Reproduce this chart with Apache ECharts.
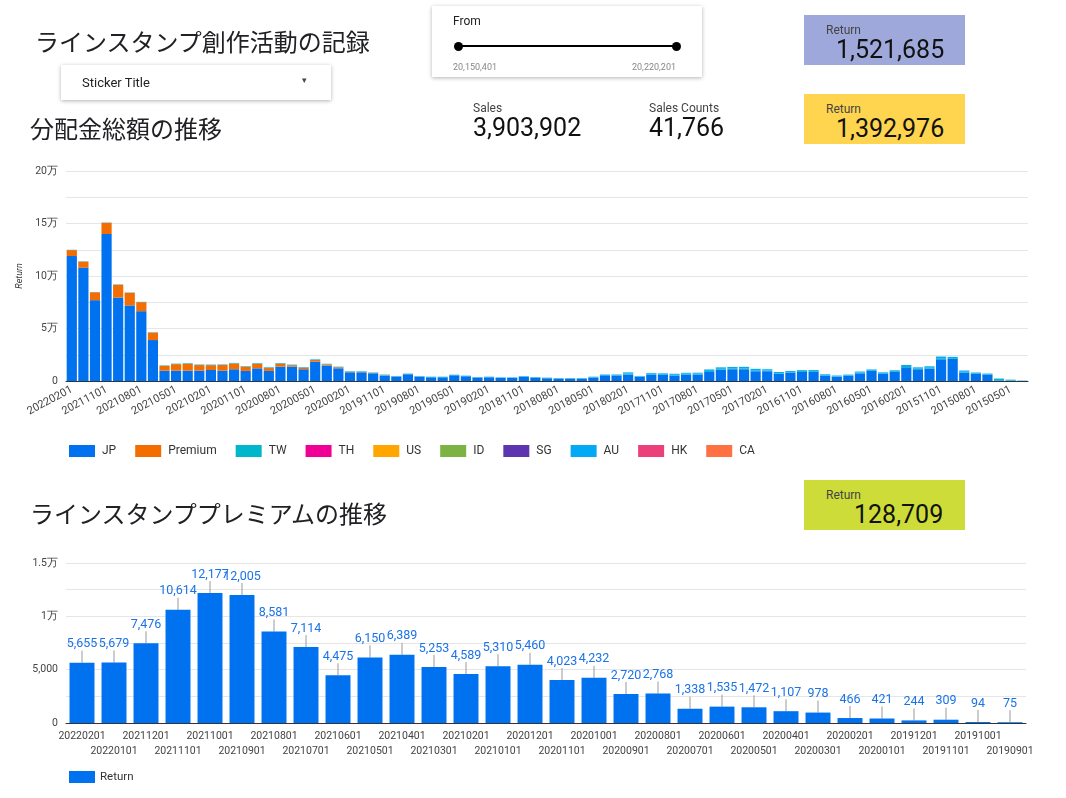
<!doctype html>
<meta charset="utf-8">
<title>ラインスタンプ創作活動の記録</title>
<style>
	body { margin: 0; width: 1066px; height: 798px; position: relative; font-family: Roboto, "Noto Sans CJK JP", sans-serif; background: #fff; overflow: hidden; }
	#main { position: absolute; left: 0; top: 0; width: 1066px; height: 798px; }
	.abs { position: absolute; }
	.title { font-size: 24px; color: #202124; font-family: "Noto Sans CJK JP", sans-serif; }
	.card { box-shadow: 0 1px 4px rgba(0,0,0,0.3); background: #fff; }
	.lbl { font-size: 12px; color: #444; }
	.big { font-size: 25px; color: #111; }
	.sc { padding-left: 22px; box-sizing: border-box; }
</style>
<div id="main"></div>
<div class="abs title" style="left:35px;top:23px">ラインスタンプ創作活動の記録</div>
<div class="abs title" style="left:30px;top:110px">分配金総額の推移</div>
<div class="abs title" style="left:30px;top:495px">ラインスタンププレミアムの推移</div>
<div class="abs card" style="left:61px;top:65px;width:270px;height:35px">
	<span class="abs" style="left:21px;top:10px;font-size:13px;color:#222">Sticker Title</span>
	<span class="abs" style="left:241px;top:10px;font-size:9px;color:#444">▾</span>
</div>
<div class="abs card" style="left:432px;top:6px;width:270px;height:71px">
	<span class="abs" style="left:21px;top:8px;font-size:12px;color:#222">From</span>
	<div class="abs" style="left:26px;top:39px;width:219px;height:2px;background:#000"></div>
	<div class="abs" style="left:22px;top:36px;width:9px;height:9px;border-radius:50%;background:#000"></div>
	<div class="abs" style="left:240px;top:36px;width:9px;height:9px;border-radius:50%;background:#000"></div>
	<span class="abs" style="left:21px;top:56px;font-size:9px;color:#888">20,150,401</span>
	<span class="abs" style="left:200px;top:56px;font-size:9px;color:#888">20,220,201</span>
</div>
<div class="abs sc" style="left:804px;top:15px;width:161px;height:50px;background:#9fa8da">
	<div class="lbl" style="margin-top:8px">Return</div><div class="big" style="margin-left:10px;margin-top:-2px">1,521,685</div>
</div>
<div class="abs sc" style="left:804px;top:94px;width:161px;height:50px;background:#ffd54f">
	<div class="lbl" style="margin-top:8px">Return</div><div class="big" style="margin-left:10px;margin-top:-2px">1,392,976</div>
</div>
<div class="abs sc" style="left:804px;top:480px;width:161px;height:50px;background:#cddc39">
	<div class="lbl" style="margin-top:8px">Return</div><div class="big" style="margin-left:28px;margin-top:-2px">128,709</div>
</div>
<div class="abs" style="left:473px;top:101px"><div class="lbl">Sales</div><div class="big" style="margin-top:-2px">3,903,902</div></div>
<div class="abs" style="left:649px;top:101px"><div class="lbl">Sales Counts</div><div class="big" style="margin-top:-2px">41,766</div></div>
<script src="https://cdn.jsdelivr.net/npm/echarts@6/dist/echarts.min.js"></script>
<script>
	// months, newest first: 20220201 ... 20150401
	var months = [];
	for (var y = 2022, m = 2; !(y == 2015 && m == 3); ) {
		months.push('' + y + (m < 10 ? '0' : '') + m + '01');
		m--; if (m == 0) { m = 12; y--; }
	}
	var jp = [119000,108000,77000,140000,79500,72000,66500,39000,9900,9900,9900,9900,10500,9900,11200,9600,12100,9600,13700,13700,
		11200,18500,14700,12100,8300,8300,7300,5100,4100,6400,4100,3500,3500,5400,4500,3200,3500,2900,2900,4100,
		3200,2600,2200,2200,2200,3200,5400,5100,6100,4100,6100,6100,5100,6100,6100,8600,10800,11200,11200,9300,
		9300,7000,8000,8600,8600,5100,4100,4800,7300,9600,7000,8600,13100,11200,11800,20700,21000,8000,7000,6100,
		600,300,200];
	var premMonths = months.slice(0, 30);
	var premium = [5655,5679,7476,10614,12177,12005,8581,7114,4475,6150,6389,5253,4589,5310,5460,4023,4232,2720,2768,1338,
		1535,1472,1107,978,466,421,244,309,94,75];
	var tw = [0,0,0,0,0,0,0,0,300,300,400,300,300,300,300,300,400,500,400,300,300,300,300,300,300,300,300,300,300,300,
		300,300,300,300,300,300,300,300,300,300,300,300,300,300,300,500,400,600,1200,300,900,600,800,800,900,1000,800,900,900,900,
		700,600,600,900,800,600,500,600,800,700,700,800,1200,900,1300,1000,800,800,700,600,1500,800,100];
	var th = [];
	var us = [];
	var idn = [];
	var sg = [];
	var au = [300,300,200,300,300,300,300,300,200,200,300,300,300,300,300,300,300,300,300,300,300,400,300,300,300,300,300,400,300,300,
		300,300,300,300,300,300,300,300,300,300,300,300,300,300,300,400,400,500,900,400,700,600,1000,900,900,1400,1400,1300,1400,1400,
		1200,1000,900,800,1000,700,600,700,900,700,600,800,1000,900,900,1600,1200,1200,400,400,300,200,100];
	var hk = [];
	var ca = [];
	var names = ['JP','Premium','TW','TH','US','ID','SG','AU','HK','CA'];
	var colors = ['#0072f0','#f46d00','#00b6cb','#f10096','#ffa600','#7cb342','#5e35b1','#03a9f4','#ec407a','#ff7043'];
	var premStack = months.map(function (d, i) { return i < premium.length ? premium[i] : 0; });
	var seriesData = [jp, premStack, tw, th, us, idn, sg, au, hk, ca];

	var fmtMan = function (v) { return v == 0 ? '0' : (v >= 10000 ? v / 10000 + '万' : v.toLocaleString('en-US')); };
	var axisText = { color: '#444', fontSize: 10.5, fontFamily: 'Roboto' };

	var series = names.map(function (n, k) {
		return { name: n, type: 'bar', stack: 'all', xAxisIndex: 0, yAxisIndex: 0, data: seriesData[k], barCategoryGap: '12%',
			itemStyle: { color: colors[k] } };
	});
	series.push({
		name: 'Return', type: 'bar', xAxisIndex: 1, yAxisIndex: 1, data: premium, barCategoryGap: '22%',
		itemStyle: { color: '#0072f0' },
		label: { show: true, position: 'top', distance: 10, color: '#1a73e8', fontSize: 12.5, fontFamily: 'Roboto',
			formatter: function (p) { return p.value.toLocaleString('en-US'); } },
		labelLine: { show: true, lineStyle: { color: '#999' } },
		labelLayout: { dy: -2 }
	});

	var chart = echarts.init(document.getElementById('main'));
	chart.setOption({
		animation: false,
		textStyle: { fontFamily: 'Roboto' },
		grid: [
			{ left: 66, right: 38, top: 171, height: 210 },
			{ left: 66, right: 40, top: 563, height: 160 }
		],
		legend: [
			{ data: names, left: 64, top: 440, itemWidth: 26, itemHeight: 12, itemGap: 19, icon: 'rect',
				textStyle: { fontSize: 12, color: '#333', padding: [0, 0, 0, 2] } },
			{ data: ['Return'], left: 64, top: 766, itemWidth: 26, itemHeight: 12, icon: 'rect',
				textStyle: { fontSize: 11.5, color: '#333' } }
		],
		xAxis: [
			{ type: 'category', gridIndex: 0, data: months, axisTick: { show: false },
				axisLine: { lineStyle: { color: '#333' } },
				axisLabel: Object.assign({}, axisText, { fontSize: 11, interval: 2, rotate: 28, margin: 8 }) },
			{ type: 'category', gridIndex: 1, data: premMonths, axisTick: { show: false },
				axisLine: { lineStyle: { color: '#333' } },
				axisLabel: Object.assign({}, axisText, { interval: 0, margin: 6, lineHeight: 15,
					formatter: function (v, i) { return i % 2 ? '\n' + v : v; } }) }
		],
		yAxis: [
			{ type: 'value', gridIndex: 0, min: 0, max: 200000, interval: 25000, name: 'Return', nameLocation: 'middle',
				nameGap: 28, nameTextStyle: { fontSize: 9, fontStyle: 'italic', color: '#333' },
				splitLine: { lineStyle: { color: '#e6e6e6' } },
				axisLabel: Object.assign({}, axisText, { formatter: function (v) { return v % 50000 == 0 ? fmtMan(v) : ''; } }) },
			{ type: 'value', gridIndex: 1, min: 0, max: 15000, interval: 2500,
				splitLine: { lineStyle: { color: '#e6e6e6' } },
				axisLabel: Object.assign({}, axisText, { formatter: function (v) { return v % 5000 == 0 ? fmtMan(v) : ''; } }) }
		],
		series: series
	});
</script>
